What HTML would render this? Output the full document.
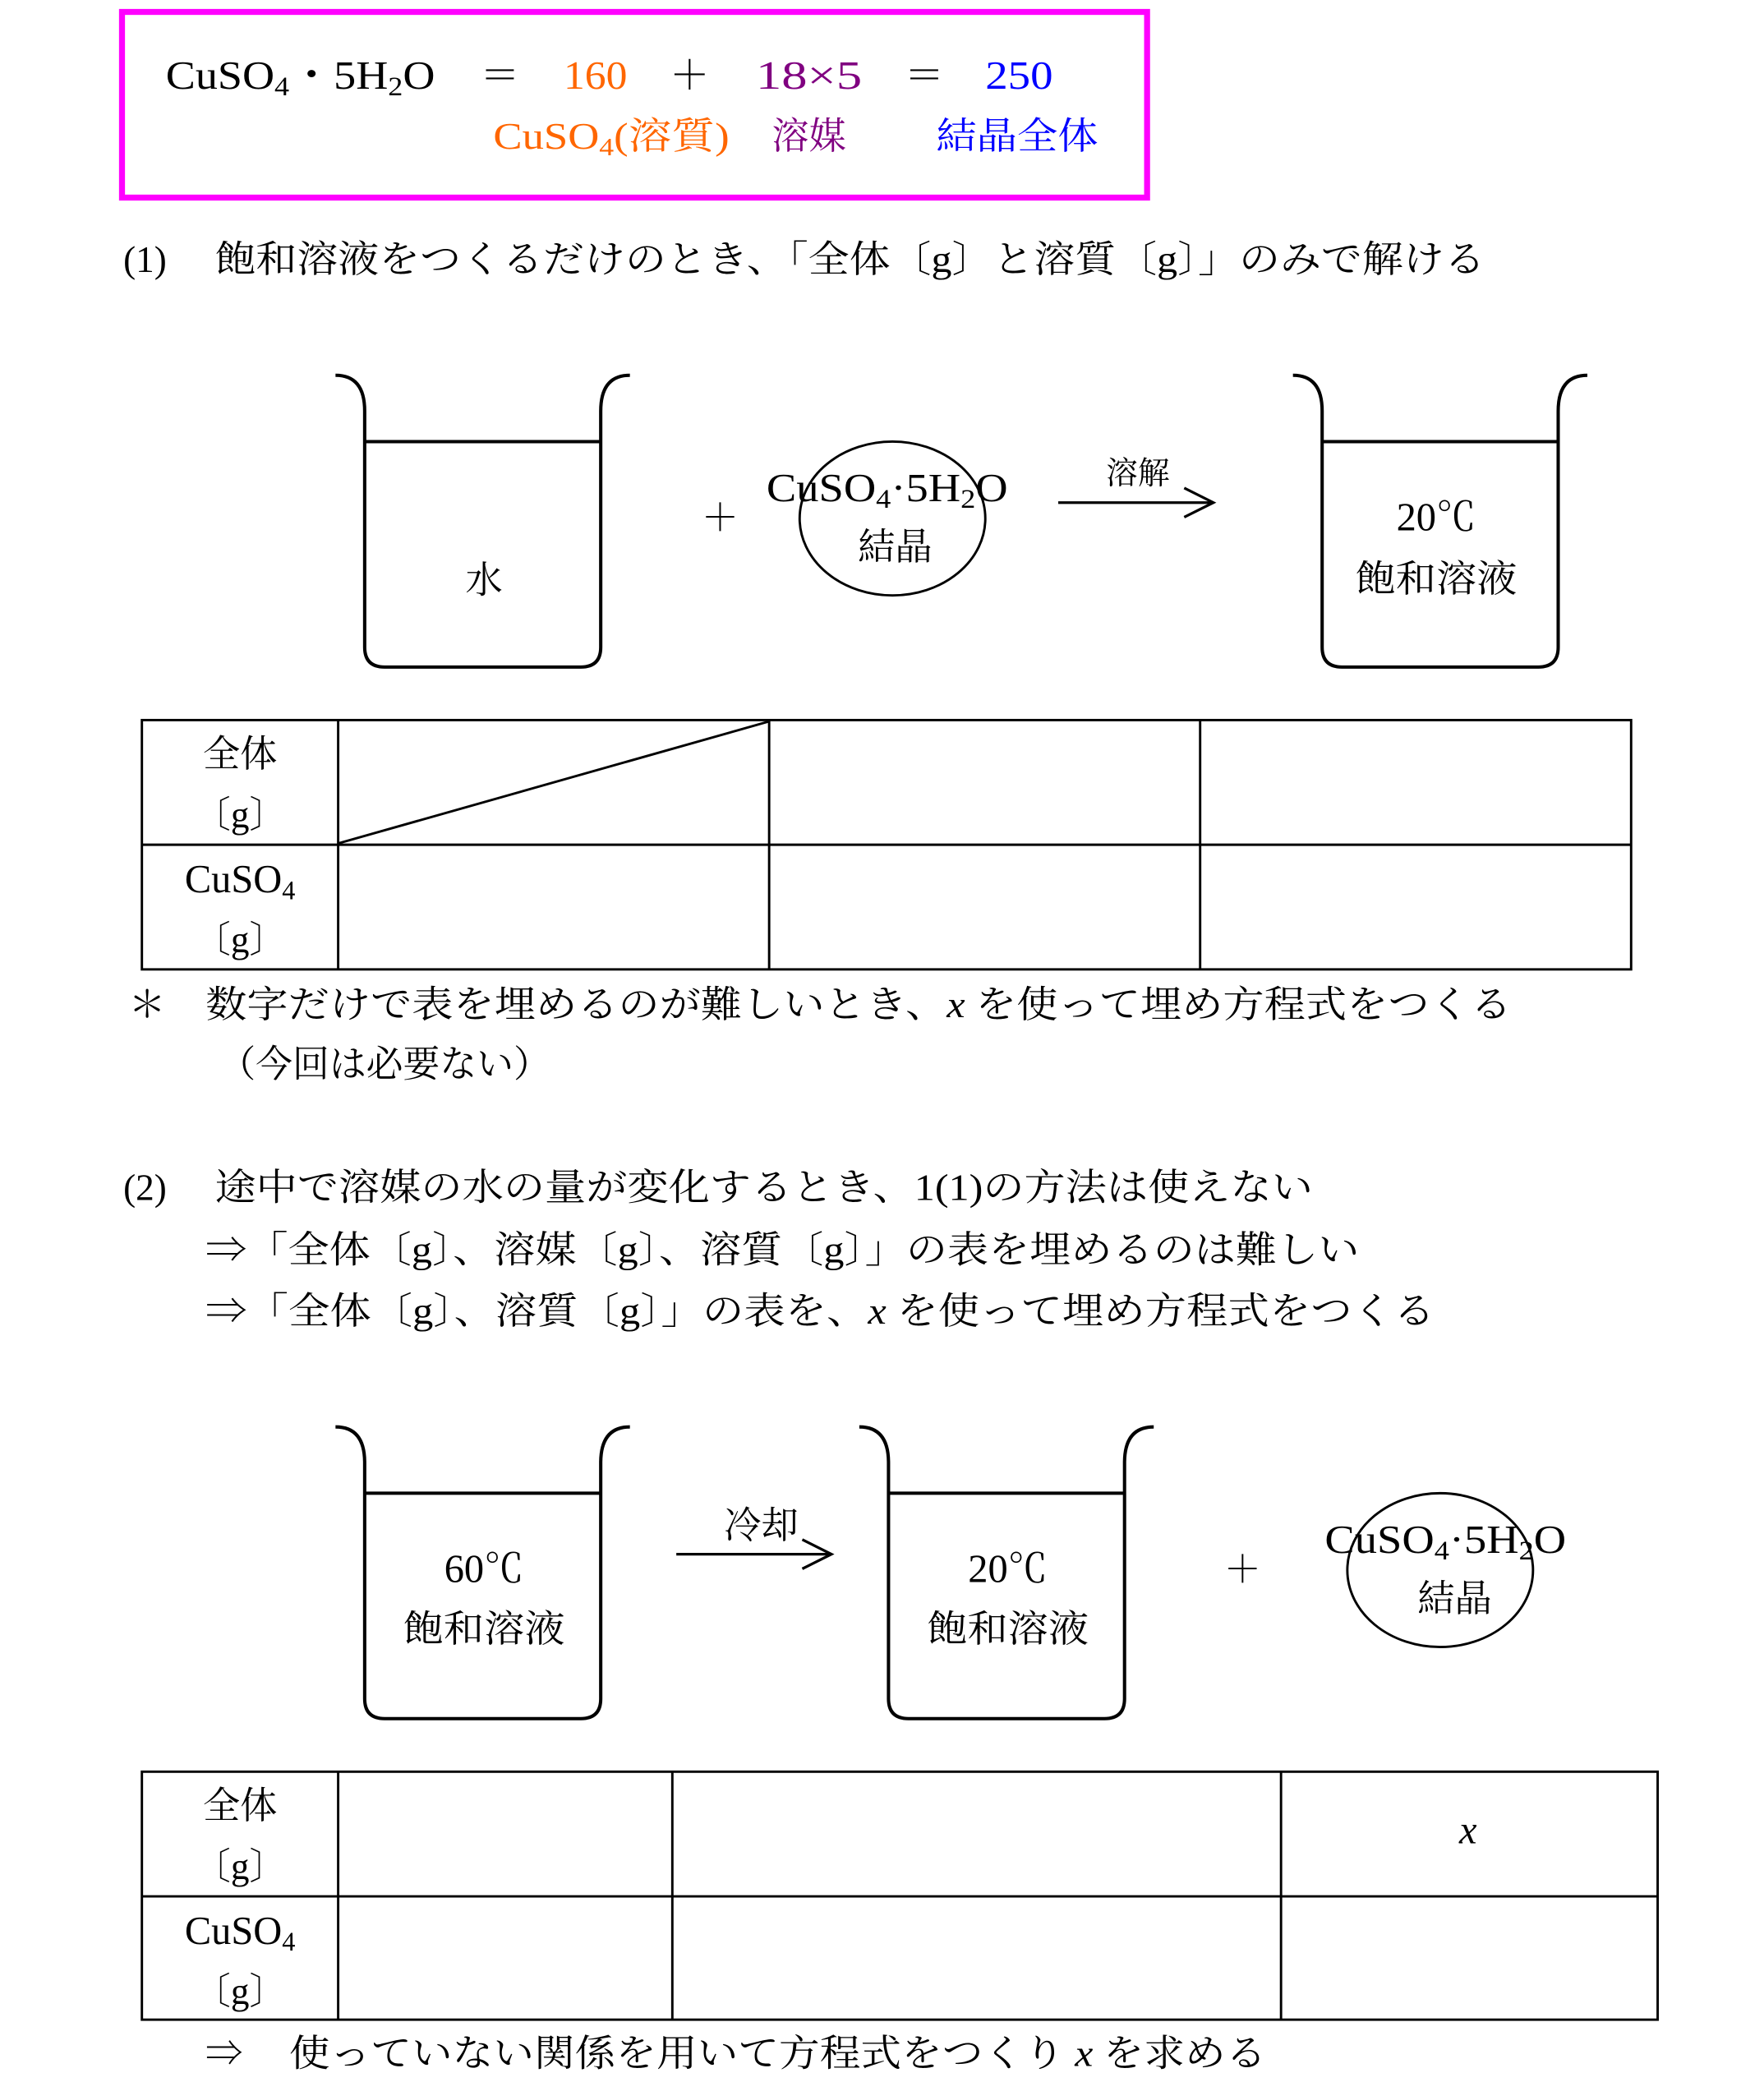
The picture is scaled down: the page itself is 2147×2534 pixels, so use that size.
<!DOCTYPE html>
<html><head><meta charset="utf-8"><style>
html,body{margin:0;padding:0;background:#fff;}
svg{display:block;}
text{font-family:"Liberation Serif","Noto Serif CJK SC","Noto Sans CJK JP",serif;fill:#000;}
.it{font-style:italic;}
</style></head><body>
<svg width="2147" height="2534" viewBox="0 0 1330.2 1570" preserveAspectRatio="none" xmlns="http://www.w3.org/2000/svg">
<rect x="92" y="9" width="773" height="140" fill="none" stroke="#ff00ff" stroke-width="4.5"/>
<g font-size="30">
<text x="125" y="67" textLength="203" lengthAdjust="spacingAndGlyphs">CuSO<tspan font-size="20" dy="5">4</tspan><tspan dy="-5">・5H</tspan><tspan font-size="20" dy="5">2</tspan><tspan dy="-5">O</tspan></text>
<text x="362" y="67">＝</text>
<text x="425" y="67" textLength="48" lengthAdjust="spacingAndGlyphs" style="fill:#ff6600">160</text>
<text x="505" y="67">＋</text>
<text x="570" y="67" textLength="80" lengthAdjust="spacingAndGlyphs" style="fill:#800080">18×5</text>
<text x="682" y="67">＝</text>
<text x="743" y="67" textLength="51" lengthAdjust="spacingAndGlyphs" style="fill:#0000ff">250</text>
</g>
<g font-size="28">
<text x="372" y="112" textLength="178" lengthAdjust="spacingAndGlyphs" style="fill:#ff6600">CuSO<tspan font-size="19" dy="5">4</tspan><tspan dy="-5">(溶質)</tspan></text>
<text x="582" y="112" style="fill:#800080">溶媒</text>
<text x="706" y="112" textLength="122" lengthAdjust="spacingAndGlyphs" style="fill:#0000ff">結晶全体</text>
</g>
<g font-size="28">
<text x="93" y="205">(1)</text>
<text x="162" y="205" textLength="958" lengthAdjust="spacingAndGlyphs">飽和溶液をつくるだけのとき、「全体〔g〕と溶質〔g〕」のみで解ける</text>
</g>
<g fill="none" stroke="#000" stroke-width="2.5">
<path d="M253,283 Q275,283 275,310 L275,488 Q275,503 290,503 L438,503 Q453,503 453,488 L453,310 Q453,283 475,283"/>
<line x1="275" y1="333" x2="453" y2="333"/>
<path d="M975,283 Q997,283 997,310 L997,488 Q997,503 1012,503 L1160,503 Q1175,503 1175,488 L1175,310 Q1175,283 1197,283"/>
<line x1="997" y1="333" x2="1175" y2="333"/>
<ellipse cx="673" cy="391" rx="70" ry="58" stroke-width="1.8"/>
<line x1="798" y1="379" x2="915" y2="379" stroke-width="2"/>
<polyline points="893,368 915,379 893,390" stroke-width="2"/>
<path d="M253,1076 Q275,1076 275,1103 L275,1281 Q275,1296 290,1296 L438,1296 Q453,1296 453,1281 L453,1103 Q453,1076 475,1076"/>
<line x1="275" y1="1126" x2="453" y2="1126"/>
<path d="M648,1076 Q670,1076 670,1103 L670,1281 Q670,1296 685,1296 L833,1296 Q848,1296 848,1281 L848,1103 Q848,1076 870,1076"/>
<line x1="670" y1="1126" x2="848" y2="1126"/>
<ellipse cx="1086" cy="1184" rx="70" ry="58" stroke-width="1.8"/>
<line x1="510" y1="1172" x2="627" y2="1172" stroke-width="2"/>
<polyline points="605,1161 627,1172 605,1183" stroke-width="2"/>
</g>
<g font-size="28">
<text x="365" y="447" text-anchor="middle">水</text>
<text x="543" y="400" text-anchor="middle">＋</text>
<text x="578" y="378" textLength="182" lengthAdjust="spacingAndGlyphs" font-size="30">CuSO<tspan font-size="20" dy="5">4</tspan><tspan dy="-5">·5H</tspan><tspan font-size="20" dy="5">2</tspan><tspan dy="-5">O</tspan></text>
<text x="675" y="422" text-anchor="middle">結晶</text>
<text x="858" y="365" font-size="24" text-anchor="middle">溶解</text>
<text x="1083" y="400" text-anchor="middle" font-size="30">20℃</text>
<text x="1083" y="446" text-anchor="middle" textLength="122" lengthAdjust="spacingAndGlyphs">飽和溶液</text>
<text x="365" y="1193" text-anchor="middle" font-size="30">60℃</text>
<text x="365" y="1238" text-anchor="middle" textLength="122" lengthAdjust="spacingAndGlyphs">飽和溶液</text>
<text x="574" y="1160" text-anchor="middle">冷却</text>
<text x="760" y="1193" text-anchor="middle" font-size="30">20℃</text>
<text x="760" y="1238" text-anchor="middle" textLength="122" lengthAdjust="spacingAndGlyphs">飽和溶液</text>
<text x="937" y="1193" text-anchor="middle">＋</text>
<text x="999" y="1171" textLength="182" lengthAdjust="spacingAndGlyphs" font-size="30">CuSO<tspan font-size="20" dy="5">4</tspan><tspan dy="-5">·5H</tspan><tspan font-size="20" dy="5">2</tspan><tspan dy="-5">O</tspan></text>
<text x="1097" y="1215" text-anchor="middle">結晶</text>
</g>
<g fill="none" stroke="#000" stroke-width="1.8">
<rect x="107" y="543" width="1123" height="188"/>
<line x1="107" y1="637" x2="1230" y2="637"/>
<line x1="255" y1="543" x2="255" y2="731"/>
<line x1="580" y1="543" x2="580" y2="731"/>
<line x1="905" y1="543" x2="905" y2="731"/>
<line x1="255" y1="636" x2="580" y2="544"/>
<rect x="107" y="1336" width="1143" height="187"/>
<line x1="107" y1="1430" x2="1250" y2="1430"/>
<line x1="255" y1="1336" x2="255" y2="1523"/>
<line x1="507" y1="1336" x2="507" y2="1523"/>
<line x1="966" y1="1336" x2="966" y2="1523"/>
</g>
<g font-size="28" text-anchor="middle">
<text x="181" y="578">全体</text>
<text x="181" y="624">〔g〕</text>
<text x="181" y="673" font-size="30">CuSO<tspan font-size="20" dy="5">4</tspan></text>
<text x="181" y="718">〔g〕</text>
<text x="181" y="1371">全体</text>
<text x="181" y="1417">〔g〕</text>
<text x="181" y="1466" font-size="30">CuSO<tspan font-size="20" dy="5">4</tspan></text>
<text x="181" y="1511">〔g〕</text>
<text x="1107" y="1390" class="it" font-size="30">x</text>
</g>
<g font-size="28">
<text x="97" y="767">＊</text>
<text x="155" y="767" textLength="985" lengthAdjust="spacingAndGlyphs">数字だけで表を埋めるのが難しいとき、<tspan class="it">x</tspan> を使って埋め方程式をつくる</text>
<text x="165" y="812" textLength="250" lengthAdjust="spacingAndGlyphs">（今回は必要ない）</text>
<text x="93" y="905">(2)</text>
<text x="162" y="905" textLength="828" lengthAdjust="spacingAndGlyphs">途中で溶媒の水の量が変化するとき、1(1)の方法は使えない</text>
<text x="155" y="952" textLength="870" lengthAdjust="spacingAndGlyphs">⇒「全体〔g〕、溶媒〔g〕、溶質〔g〕」の表を埋めるのは難しい</text>
<text x="155" y="998" textLength="927" lengthAdjust="spacingAndGlyphs">⇒「全体〔g〕、溶質〔g〕」の表を、<tspan class="it">x</tspan> を使って埋め方程式をつくる</text>
<text x="155" y="1558">⇒</text>
<text x="218" y="1558" textLength="737" lengthAdjust="spacingAndGlyphs">使っていない関係を用いて方程式をつくり <tspan class="it">x</tspan> を求める</text>
</g>
</svg>
</body></html>
